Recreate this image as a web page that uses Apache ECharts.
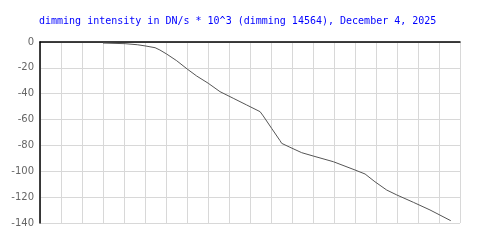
<!DOCTYPE html>
<html><head><meta charset="utf-8">
<script src="https://cdn.jsdelivr.net/npm/echarts@6/dist/echarts.min.js"></script>
<style>html,body{margin:0;padding:0;background:#fff}#c{width:500px;height:250px}</style>
</head><body><div id="c"></div>
<script>
const titleText = 'dimming intensity in DN/s * 10^3 (dimming 14564), December 4, 2025';
const xPos = [3.0, 4.05, 4.63, 5.0, 5.48, 5.71, 6.03, 6.51, 7.01, 7.46, 8.01, 8.57, 9.2, 9.84, 10.48, 10.63, 11.03, 11.43, 11.51, 11.9, 12.46, 13.01, 13.97, 15.0, 15.48, 15.95, 16.51, 16.99, 17.78, 18.57, 19.56];
const dimming = [-0.8, -1.3, -2.1, -3.0, -4.4, -6.2, -9.3, -14.5, -20.9, -26.3, -31.9, -38.4, -43.5, -48.7, -53.9, -57.2, -66.8, -76.3, -78.4, -81.4, -85.6, -88.2, -92.6, -99.0, -102.1, -108.1, -114.5, -118.3, -124.0, -129.9, -138.2];
const yTicks = [0, -20, -40, -60, -80, -100, -120, -140];

const chart = echarts.init(document.getElementById('c'), null, {renderer: 'canvas'});
chart.setOption({
  animation: false,
  title: {text: titleText, left: 39, top: 16, padding: 0, textStyle: {fontFamily: 'DejaVu Sans Mono', fontSize: 10, fontWeight: 'normal', color: '#0000ff'}},
  grid: {left: 40, top: 42, right: 40, bottom: 27, containLabel: false},
  xAxis: {type: 'value', min: 0, max: 20, interval: 1, position: 'top',
    axisLine: {show: true, lineStyle: {color: '#000', width: 1.5}},
    axisTick: {show: false}, axisLabel: {show: false},
    splitLine: {show: true, lineStyle: {color: '#d8d8d8', width: 1}}},
  yAxis: {type: 'value', min: -140, max: 0, interval: 20,
    axisLine: {show: true, lineStyle: {color: '#000', width: 1.5}},
    axisTick: {show: false},
    axisLabel: {color: '#666', fontFamily: 'DejaVu Sans', fontSize: 10, margin: 6,
      formatter: v => yTicks.includes(v) ? String(v) : ''},
    splitLine: {show: true, lineStyle: {color: '#d8d8d8', width: 1}}},
  series: [{type: 'line', data: xPos.map((x, i) => [x, dimming[i]]), showSymbol: false,
    lineStyle: {color: '#555', width: 1}, z: 3}]
});
</script></body></html>
